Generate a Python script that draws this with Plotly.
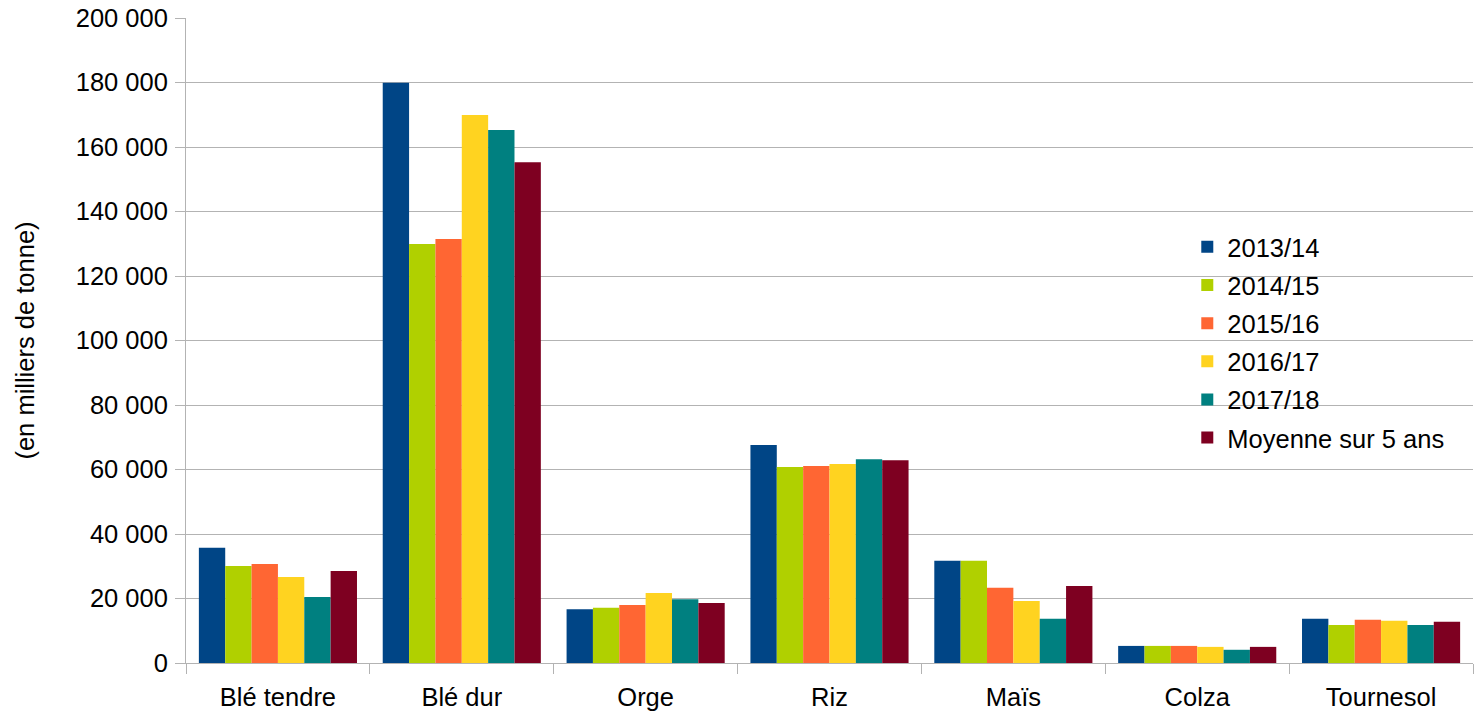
import plotly.graph_objects as go

categories = ["Blé tendre", "Blé dur", "Orge", "Riz", "Maïs", "Colza", "Tournesol"]
series_names = ["2013/14", "2014/15", "2015/16", "2016/17", "2017/18", "Moyenne sur 5 ans"]
v_2013 = [35700, 179900, 16700, 67600, 31700, 5300, 13700]
v_2014 = [30100, 129900, 17100, 60800, 31700, 5300, 11800]
v_2015 = [30700, 131500, 18000, 61100, 23300, 5300, 13400]
v_2016 = [26700, 169900, 21700, 61700, 19200, 5000, 13100]
v_2017 = [20500, 165300, 19800, 63200, 13700, 4100, 11800]
v_moy = [28500, 155300, 18600, 62900, 23900, 5000, 12800]
colors = ["#004586", "#b0d000", "#ff6633", "#ffd320", "#008080", "#7e0021"]

values = [v_2013, v_2014, v_2015, v_2016, v_2017, v_moy]

fig = go.Figure()
for i, (name, vals) in enumerate(zip(series_names, values)):
    fig.add_trace(go.Bar(
        x=categories, y=vals, name=name,
        marker=dict(color=colors[i], line=dict(width=0)),
        legendgroup=name,
    ))

fig.update_layout(
    width=1474, height=712,
    margin=dict(l=186, r=1, t=18, b=49),
    paper_bgcolor="white", plot_bgcolor="white",
    font=dict(family="Liberation Sans, Arial, sans-serif", size=25.5, color="#000000"),
    barmode="group", bargap=0.14, bargroupgap=0,
    separators=", ",
    legend=dict(
        x=0.778, y=0.681, xanchor="left", yanchor="top",
        bgcolor="rgba(0,0,0,0)", borderwidth=0,
        font=dict(size=25.5), tracegroupgap=2, traceorder="grouped",
    ),
    showlegend=True,
)
fig.update_xaxes(
    showline=True, linecolor="#b3b3b3", linewidth=1,
    ticks="outside", tickson="boundaries", ticklen=10, tickcolor="#b3b3b3",
    showgrid=False, ticklabelstandoff=11, automargin=False,
)
fig.update_yaxes(
    range=[0, 200000], dtick=20000, tickformat=",d",
    showline=True, linecolor="#b3b3b3", linewidth=1,
    ticks="outside", ticklen=10, tickcolor="#b3b3b3",
    showgrid=True, gridcolor="#b3b3b3", gridwidth=1,
    zeroline=False, automargin=False,
    title=dict(text="(en milliers de tonne)", font=dict(size=25.5), standoff=33),
    ticklabelstandoff=2,
)

fig.write_html("out.html", config={"displayModeBar": False},
               post_script="document.body.style.margin='0px';")
